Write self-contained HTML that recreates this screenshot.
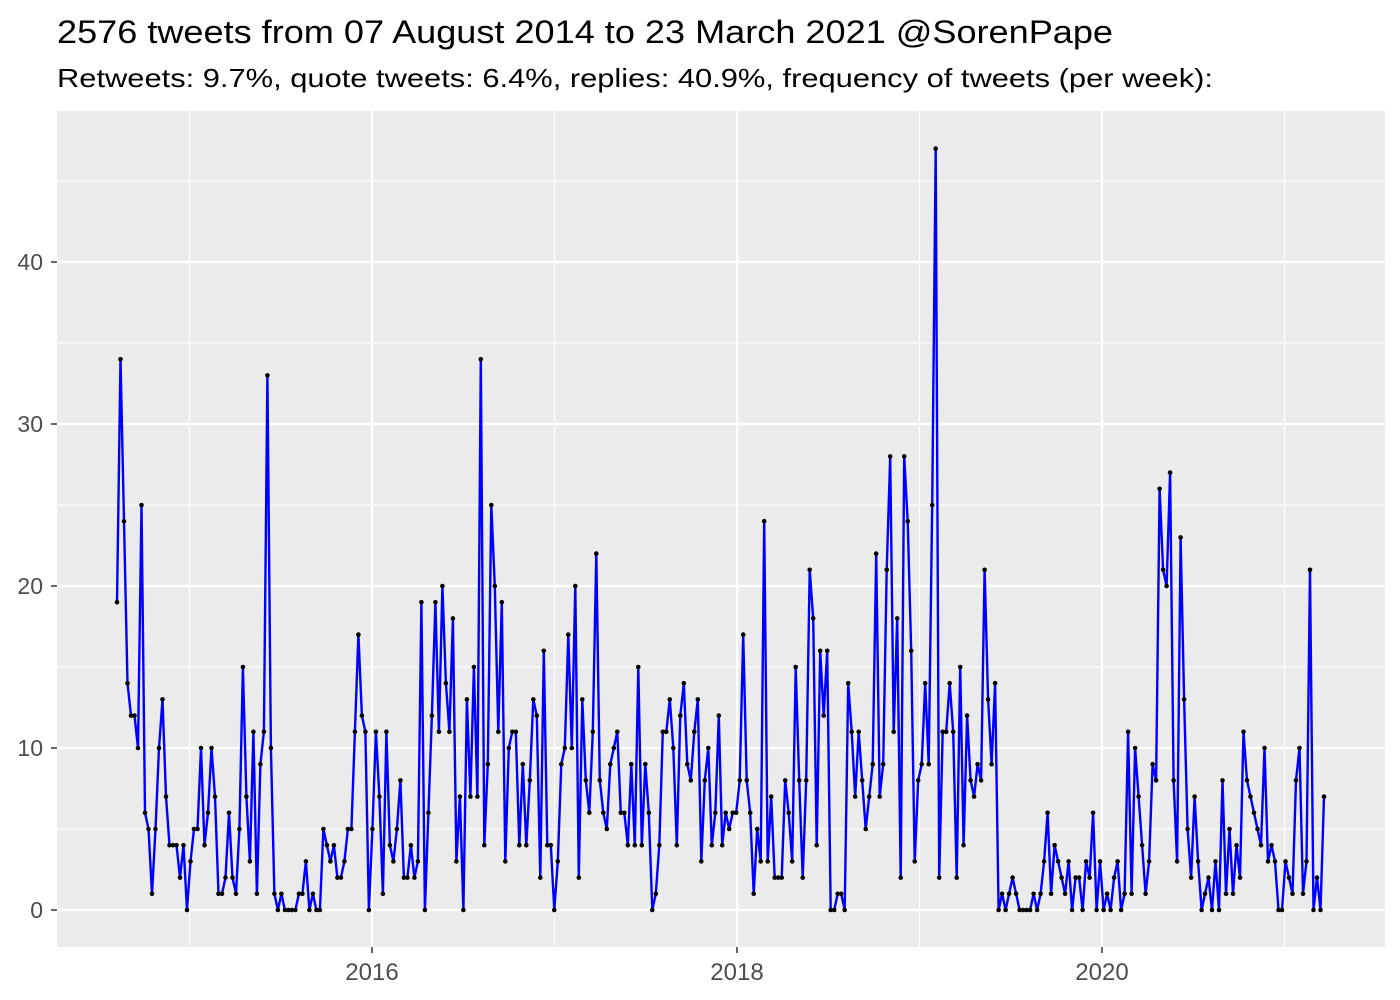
<!DOCTYPE html>
<html><head><meta charset="utf-8"><style>body{margin:0;background:#fff}svg{display:block}</style></head>
<body>
<svg id="s" width="1400" height="1000" xmlns="http://www.w3.org/2000/svg" font-family="Liberation Sans, sans-serif">
<rect width="1400" height="1000" fill="#fff"/>
<text x="57" y="43" font-size="32" textLength="1056" lengthAdjust="spacingAndGlyphs">2576 tweets from 07 August 2014 to 23 March 2021 @SorenPape</text>
<text x="57" y="87" font-size="26" textLength="1156" lengthAdjust="spacingAndGlyphs">Retweets: 9.7%, quote tweets: 6.4%, replies: 40.9%, frequency of tweets (per week):</text>
<rect x="57" y="111" width="1328" height="836" fill="#EBEBEB"/>
<g stroke="#fff" stroke-width="1" fill="none">
<line x1="57" x2="1385" y1="829" y2="829"/><line x1="57" x2="1385" y1="667" y2="667"/><line x1="57" x2="1385" y1="505" y2="505"/><line x1="57" x2="1385" y1="343" y2="343"/><line x1="57" x2="1385" y1="181" y2="181"/>
<line y1="111" y2="947" x1="189.5" x2="189.5"/><line y1="111" y2="947" x1="554.5" x2="554.5"/><line y1="111" y2="947" x1="919.5" x2="919.5"/><line y1="111" y2="947" x1="1284.5" x2="1284.5"/>
</g>
<g stroke="#fff" stroke-width="2.2" fill="none">
<line x1="57" x2="1385" y1="910" y2="910"/><line x1="57" x2="1385" y1="748" y2="748"/><line x1="57" x2="1385" y1="586" y2="586"/><line x1="57" x2="1385" y1="424" y2="424"/><line x1="57" x2="1385" y1="262" y2="262"/>
<line y1="111" y2="947" x1="372" x2="372"/><line y1="111" y2="947" x1="737" x2="737"/><line y1="111" y2="947" x1="1102" x2="1102"/>
</g>
<g stroke="#333" stroke-width="1.5">
<line x1="51" x2="57" y1="910" y2="910"/><line x1="51" x2="57" y1="748" y2="748"/><line x1="51" x2="57" y1="586" y2="586"/><line x1="51" x2="57" y1="424" y2="424"/><line x1="51" x2="57" y1="262" y2="262"/>
<line y1="947" y2="953" x1="372" x2="372"/><line y1="947" y2="953" x1="737" x2="737"/><line y1="947" y2="953" x1="1102" x2="1102"/>
</g>
<g font-size="23" fill="#4D4D4D" text-anchor="end">
<text x="43" y="918">0</text><text x="43" y="756">10</text><text x="43" y="594">20</text><text x="43" y="432">30</text><text x="43" y="270">40</text>
</g>
<g font-size="24" fill="#4D4D4D" text-anchor="middle">
<text x="372" y="980">2016</text><text x="737" y="980">2018</text><text x="1102" y="980">2020</text>
</g>
<g id="d"></g>
</svg>
<script>
var v=[19,34,24,14,12,12,10,25,6,5,1,5,10,13,7,4,4,4,2,4,0,3,5,5,10,4,6,10,7,1,1,2,6,2,1,5,15,7,3,11,1,9,11,33,10,1,0,1,0,0,0,0,1,1,3,0,1,0,0,5,4,3,4,2,2,3,5,5,11,17,12,11,0,5,11,7,1,11,4,3,5,8,2,2,4,2,3,19,0,6,12,19,11,20,14,11,18,3,7,0,13,7,15,7,34,4,9,25,20,11,19,3,10,11,11,4,9,4,8,13,12,2,16,4,4,0,3,9,10,17,10,20,2,13,8,6,11,22,8,6,5,9,10,11,6,6,4,9,4,15,4,9,6,0,1,4,11,11,13,10,4,12,14,9,8,11,13,3,8,10,4,6,12,4,6,5,6,6,8,17,8,6,1,5,3,24,3,7,2,2,2,8,6,3,15,8,2,8,21,18,4,16,12,16,0,0,1,1,0,14,11,7,11,8,5,7,9,22,7,9,21,28,11,18,2,28,24,16,3,8,9,14,9,25,47,2,11,11,14,11,2,15,4,12,8,7,9,8,21,13,9,14,0,1,0,1,2,1,0,0,0,0,1,0,1,3,6,1,4,3,2,1,3,0,2,2,0,3,2,6,0,3,0,1,0,2,3,0,1,11,1,10,7,4,1,3,9,8,26,21,20,27,8,3,23,13,5,2,7,3,0,1,2,0,3,0,8,1,5,1,4,2,11,8,7,6,5,4,10,3,4,3,0,0,3,2,1,8,10,1,3,21,0,2,0,7];
var n=v.length,st=(1324-117)/(n-1),p="",c="";
for(var i=0;i<n;i++){var x=117+i*st,y=910-v[i]*16.2;p+=(i?"L":"M")+x.toFixed(1)+" "+y.toFixed(1);c+='<circle cx="'+x.toFixed(1)+'" cy="'+y.toFixed(1)+'" r="2.3" fill="#000"/>';}
document.getElementById("d").innerHTML='<path d="'+p+'" fill="none" stroke="#0000FF" stroke-width="2.4" stroke-linejoin="round"/>'+c;
</script>
</body></html>
